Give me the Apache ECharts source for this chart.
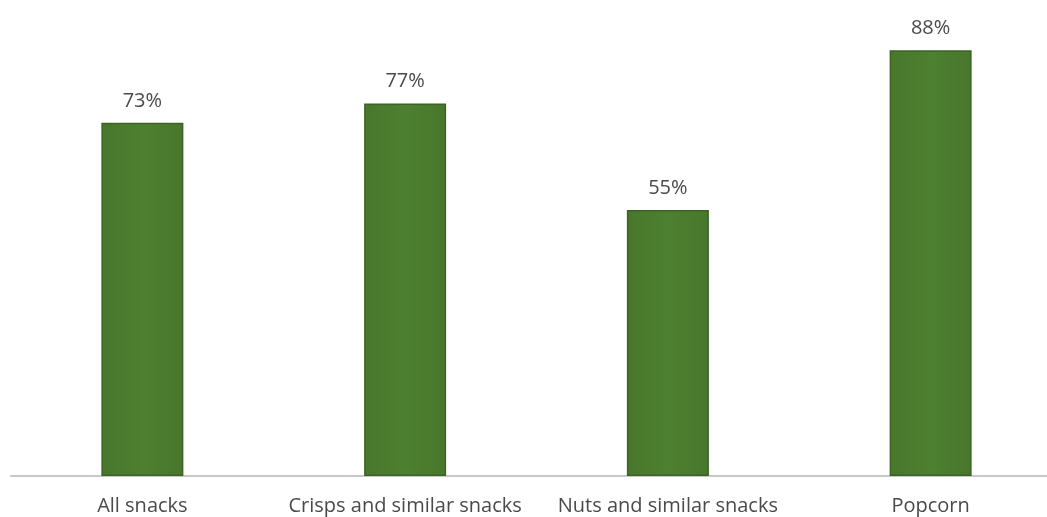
<!DOCTYPE html>
<html>
<head>
<meta charset="utf-8">
<script src="https://cdn.jsdelivr.net/npm/echarts@6/dist/echarts.min.js"></script>
<style>
  html, body { margin: 0; padding: 0; background: #ffffff; overflow: hidden; }
  /* plot runs slightly past the right edge of the window */
  #chart { width: 1062px; height: 517px; }
</style>
</head>
<body>
<div id="chart"></div>
<script>
// Share of households buying each snack type
const categories = ['All snacks', 'Crisps and similar snacks', 'Nuts and similar snacks', 'Popcorn'];
const shares = [73, 77, 55, 88];

const chart = echarts.init(document.getElementById('chart'), null, { renderer: 'canvas' });

// soft lighter band down the middle of each bar
const barFill = {
  type: 'linear', x: 0, y: 0, x2: 1, y2: 0,
  colorStops: [
    { offset: 0, color: '#48772b' },
    { offset: 0.5, color: '#4e8031' },
    { offset: 1, color: '#48772b' }
  ]
};

chart.setOption({
  animation: false,
  backgroundColor: '#ffffff',
  grid: { left: 11, right: 0, top: 0, bottom: 41, containLabel: false },
  xAxis: {
    type: 'category',
    data: categories,
    axisLine: { show: true, lineStyle: { color: '#c8c8c8', width: 2 } },
    axisTick: { show: false },
    axisLabel: {
      interval: 0,
      margin: 20,
      color: '#4a4a4a',
      fontFamily: 'Open Sans',
      fontSize: 20
    }
  },
  yAxis: {
    type: 'value',
    min: 0,
    max: 98.4,
    show: false,
    splitLine: { show: false }
  },
  series: [{
    type: 'bar',
    data: shares,
    barWidth: 82,
    itemStyle: { color: barFill, borderColor: '#3b6424', borderWidth: 1.5 },
    label: {
      show: true,
      position: 'top',
      distance: 12,
      formatter: '{c}%',
      color: '#4a4a4a',
      fontFamily: 'Open Sans',
      fontSize: 20
    }
  }]
});
</script>
</body>
</html>
